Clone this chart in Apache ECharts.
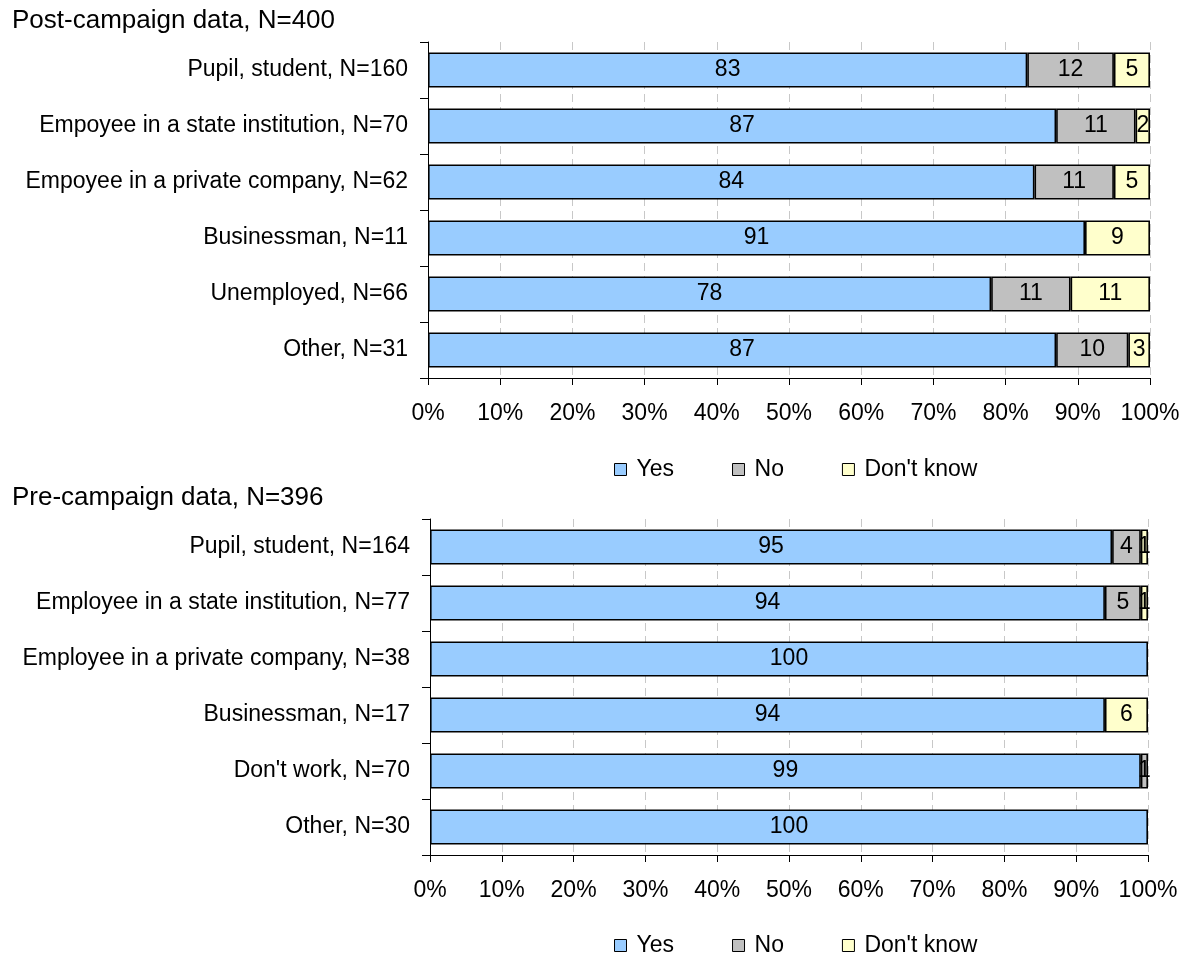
<!DOCTYPE html>
<html>
<head>
<meta charset="utf-8">
<script src="https://cdn.jsdelivr.net/npm/echarts@6/dist/echarts.min.js"></script>
<style>html,body{margin:0;padding:0;background:#fff}#c{width:1186px;height:958px}</style>
</head>
<body>
<div id="c"></div>
<script>
const postTitle = 'Post-campaign data, N=400';
const preTitle = 'Pre-campaign data, N=396';
const seriesNames = ['Yes', 'No', "Don't know"];
const tickLabels = [0, 10, 20, 30, 40, 50, 60, 70, 80, 90, 100];

const postCategories = ['Pupil, student, N=160', 'Empoyee in a state institution, N=70', 'Empoyee in a private company, N=62', 'Businessman, N=11', 'Unemployed, N=66', 'Other, N=31'];
const postYes = [83, 87, 84, 91, 78, 87];
const postNo = [12, 11, 11, 0, 11, 10];
const postDK = [5, 2, 5, 9, 11, 3];

const preCategories = ['Pupil, student, N=164', 'Employee in a state institution, N=77', 'Employee in a private company, N=38', 'Businessman, N=17', "Don't work, N=70", 'Other, N=30'];
const preYes = [95, 94, 100, 94, 99, 100];
const preNo = [4, 5, 0, 0, 1, 0];
const preDK = [1, 1, 0, 6, 0, 0];

const colors = ['#99CCFF', '#C0C0C0', '#FFFFCC'];
const FONT = 'Liberation Sans, Arial, sans-serif';
const FS = 23;

function xAxisCfg(gi) {
  return {
    gridIndex: gi, type: 'value', min: tickLabels[0], max: tickLabels[tickLabels.length - 1], interval: 10,
    axisLine: { show: true, lineStyle: { color: '#000', width: 1 } },
    axisTick: { show: true, length: 7, lineStyle: { color: '#000' } },
    axisLabel: { formatter: '{value}%', color: '#000', fontSize: FS, fontFamily: FONT, margin: 24 },
    splitLine: { show: true, lineStyle: { color: '#c8c8c8', type: [8, 5], width: 1 } }
  };
}
function yAxisCfg(gi, cats) {
  return {
    gridIndex: gi, type: 'category', data: cats, inverse: true,
    axisLine: { show: true, lineStyle: { color: '#000', width: 1 } },
    axisTick: { show: true, length: 8, lineStyle: { color: '#000' } },
    axisLabel: { color: '#000', fontSize: FS, fontFamily: FONT, margin: 20 },
    splitLine: { show: false }
  };
}
function mk(name, idx, data, gi) {
  return {
    name: name, type: 'bar', stack: 'g' + gi, xAxisIndex: gi, yAxisIndex: gi,
    data: data.map(v => (v === 0 ? '-' : v)), barWidth: 35,
    itemStyle: { color: colors[idx], borderColor: '#000', borderWidth: 1.6 },
    label: {
      show: true, position: 'inside', color: '#000', fontSize: FS, fontFamily: FONT,
      formatter: p => String(p.value)
    },
    emphasis: { disabled: true },
    animation: false
  };
}
function legendCfg(top) {
  return {
    top: top, left: 609, data: seriesNames, icon: 'rect', itemWidth: 12, itemHeight: 12, itemGap: 58,
    itemStyle: { borderColor: '#000', borderWidth: 1 },
    textStyle: { color: '#000', fontSize: FS, fontFamily: FONT, padding: [0, 0, 0, 5] },
    selectedMode: false
  };
}

const chart = echarts.init(document.getElementById('c'), null, { renderer: 'canvas' });
chart.setOption({
  animation: false,
  backgroundColor: '#fff',
  title: [
    { text: postTitle, left: 7, top: 3, textStyle: { color: '#000', fontSize: 26, fontWeight: 'normal', fontFamily: FONT } },
    { text: preTitle, left: 7, top: 480, textStyle: { color: '#000', fontSize: 26, fontWeight: 'normal', fontFamily: FONT } }
  ],
  legend: [legendCfg(453), legendCfg(929)],
  grid: [
    { left: 428, top: 42, width: 722, height: 336, containLabel: false },
    { left: 430, top: 519, width: 718, height: 336, containLabel: false }
  ],
  xAxis: [xAxisCfg(0), xAxisCfg(1)],
  yAxis: [yAxisCfg(0, postCategories), yAxisCfg(1, preCategories)],
  series: [
    mk(seriesNames[0], 0, postYes, 0), mk(seriesNames[1], 1, postNo, 0), mk(seriesNames[2], 2, postDK, 0),
    mk(seriesNames[0], 0, preYes, 1), mk(seriesNames[1], 1, preNo, 1), mk(seriesNames[2], 2, preDK, 1)
  ]
});
</script>
</body>
</html>
